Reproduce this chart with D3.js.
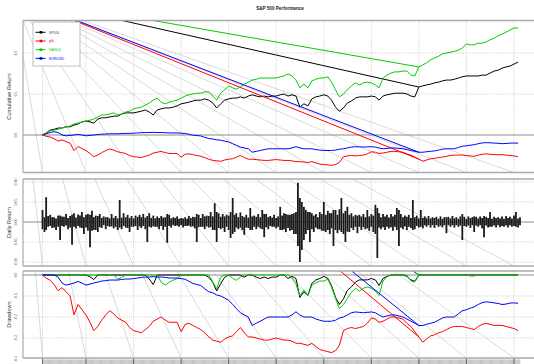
<!DOCTYPE html>
<html><head><meta charset="utf-8">
<script src="https://cdn.jsdelivr.net/npm/d3@7"></script>
<style>body{margin:0;background:#fff}svg{display:block;font-family:"Liberation Sans",Arial,sans-serif}</style>
</head><body>
<svg id="chart" width="534" height="364"></svg>
<script>
// ---------------- DATA ----------------
const chartTitle = "S&P 500 Performance";
const seriesNames = ["SP500", "gld", "NASDQ", "EUR/USD"];
const seriesColors = ["#000000", "#ff0000", "#00cc00", "#0000ff"];
// monthly cumulative returns, Feb 2011 .. Feb 2021
const cumSP500 = [0.00,0.024,0.06,0.07,0.085,0.085,0.10,0.10,0.12,0.135,
0.16,0.17,0.16,0.145,0.195,0.21,0.21,0.22,0.23,0.23,
0.255,0.27,0.27,0.27,0.28,0.29,0.305,0.28,0.245,0.305,
0.32,0.33,0.33,0.34,0.355,0.38,0.39,0.40,0.415,0.425,
0.425,0.44,0.425,0.39,0.33,0.38,0.425,0.44,0.45,0.45,
0.465,0.45,0.475,0.49,0.475,0.465,0.475,0.465,0.475,0.475,
0.49,0.50,0.475,0.49,0.475,0.34,0.38,0.355,0.44,0.465,
0.475,0.49,0.475,0.425,0.34,0.29,0.33,0.39,0.415,0.45,
0.465,0.465,0.465,0.475,0.465,0.425,0.475,0.49,0.50,0.51,
0.51,0.51,0.50,0.475,0.465,0.585,0.60,0.61,0.62,0.635,
0.645,0.66,0.67,0.67,0.68,0.695,0.71,0.72,0.72,0.72,
0.72,0.73,0.73,0.755,0.78,0.79,0.815,0.83,0.84,0.865,
0.89];
const cumGld = [0.0,-0.015,-0.025,-0.045,-0.075,-0.06,-0.08,-0.10,-0.19,-0.14,
-0.165,-0.19,-0.225,-0.265,-0.245,-0.215,-0.19,-0.17,-0.185,-0.205,
-0.215,-0.225,-0.25,-0.265,-0.27,-0.275,-0.26,-0.245,-0.22,-0.21,
-0.20,-0.215,-0.225,-0.225,-0.225,-0.27,-0.235,-0.23,-0.24,-0.25,
-0.26,-0.275,-0.295,-0.31,-0.315,-0.32,-0.305,-0.295,-0.29,-0.27,
-0.25,-0.275,-0.295,-0.295,-0.30,-0.305,-0.31,-0.31,-0.305,-0.30,
-0.305,-0.31,-0.31,-0.315,-0.325,-0.325,-0.33,-0.335,-0.325,-0.34,
-0.355,-0.36,-0.365,-0.37,-0.36,-0.335,-0.265,-0.255,-0.25,-0.255,
-0.25,-0.245,-0.23,-0.205,-0.21,-0.225,-0.22,-0.21,-0.20,-0.20,
-0.205,-0.21,-0.23,-0.245,-0.27,-0.295,-0.32,-0.305,-0.29,-0.285,
-0.275,-0.27,-0.26,-0.25,-0.245,-0.245,-0.245,-0.25,-0.255,-0.26,
-0.245,-0.235,-0.23,-0.235,-0.24,-0.24,-0.24,-0.245,-0.25,-0.255,
-0.265];
const cumNasdq = [0.00,0.024,0.05,0.06,0.07,0.085,0.10,0.11,0.135,0.145,
0.16,0.17,0.18,0.195,0.22,0.245,0.245,0.255,0.27,0.245,
0.255,0.28,0.29,0.32,0.33,0.34,0.365,0.39,0.425,0.45,
0.40,0.38,0.40,0.415,0.425,0.45,0.475,0.49,0.50,0.51,
0.51,0.525,0.525,0.475,0.425,0.51,0.55,0.60,0.575,0.56,
0.585,0.62,0.645,0.67,0.68,0.695,0.695,0.695,0.695,0.695,
0.71,0.72,0.745,0.72,0.67,0.575,0.62,0.575,0.66,0.68,
0.695,0.695,0.71,0.645,0.55,0.465,0.50,0.55,0.60,0.635,
0.61,0.635,0.645,0.635,0.61,0.575,0.695,0.73,0.755,0.77,
0.77,0.78,0.78,0.73,0.72,0.83,0.855,0.88,0.915,0.94,
0.96,0.99,1.00,1.01,1.02,1.035,1.06,1.11,1.10,1.10,
1.12,1.12,1.135,1.16,1.18,1.21,1.23,1.255,1.28,1.305,
1.305];
const cumEurUsd = [0.0,0.015,0.03,0.04,0.03,0.0,-0.01,-0.005,0.0,0.008,
0.0,-0.01,-0.005,0.0,0.005,0.01,0.012,0.015,0.015,0.015,
0.018,0.02,0.02,0.022,0.025,0.028,0.03,0.03,0.032,0.03,
0.03,0.028,0.025,0.025,0.025,0.022,0.019,0.009,-0.002,-0.007,
-0.012,-0.028,-0.043,-0.048,-0.059,-0.064,-0.074,-0.085,-0.106,-0.126,
-0.147,-0.158,-0.168,-0.21,-0.199,-0.189,-0.178,-0.168,-0.168,-0.168,
-0.168,-0.168,-0.168,-0.158,-0.142,-0.158,-0.168,-0.168,-0.168,-0.178,
-0.184,-0.189,-0.189,-0.189,-0.184,-0.173,-0.168,-0.158,-0.147,-0.143,
-0.145,-0.147,-0.145,-0.143,-0.147,-0.158,-0.168,-0.163,-0.158,-0.158,
-0.163,-0.168,-0.178,-0.189,-0.199,-0.21,-0.21,-0.204,-0.199,-0.194,
-0.184,-0.173,-0.168,-0.168,-0.168,-0.152,-0.137,-0.132,-0.124,-0.118,
-0.106,-0.097,-0.093,-0.095,-0.098,-0.101,-0.106,-0.104,-0.099,-0.098,
-0.1];
// semi-monthly daily-return readings (SP500): dominant move in each half month
const dailyReturns = [0.03,-0.025,0.062,-0.012,0.018,-0.015,0.012,-0.02,0.016,-0.045,
0.014,-0.012,0.02,-0.018,0.015,-0.057,0.022,-0.016,0.019,-0.014,
0.025,-0.03,0.018,-0.022,-0.063,0.028,-0.02,0.016,-0.025,0.02,
-0.015,0.014,-0.018,0.012,-0.012,0.02,-0.016,0.015,-0.02,0.055,
-0.018,0.022,-0.014,0.018,-0.025,0.015,-0.012,0.016,-0.02,0.018,
-0.015,0.02,-0.018,-0.05,0.022,-0.014,0.016,-0.012,0.014,-0.018,
0.015,-0.02,0.012,-0.052,0.018,-0.014,0.012,-0.01,0.014,-0.012,
0.01,-0.014,0.012,-0.01,0.015,-0.012,0.013,-0.016,-0.05,0.018,
-0.012,0.02,-0.018,0.016,-0.014,0.025,-0.02,0.047,-0.05,0.022,
-0.018,0.02,-0.025,0.018,-0.02,-0.04,0.06,-0.025,0.022,-0.018,
0.024,-0.02,-0.032,0.018,-0.015,0.035,-0.02,0.016,-0.018,0.02,
-0.016,0.03,-0.038,0.02,-0.018,0.015,-0.012,0.018,-0.016,0.014,
0.038,-0.02,0.022,-0.025,0.018,-0.022,0.02,-0.03,0.025,0.098,
-0.10,-0.07,0.038,-0.03,0.025,-0.05,0.022,-0.025,0.02,-0.018,
0.025,-0.022,0.05,-0.025,0.028,-0.03,0.022,-0.06,0.03,-0.028,
0.032,0.06,-0.03,-0.05,0.038,-0.025,0.022,-0.02,0.018,-0.028,
0.018,-0.02,0.02,-0.018,0.03,-0.022,0.02,-0.025,0.043,-0.09,
0.022,-0.018,0.02,-0.02,0.018,-0.016,0.02,-0.022,0.018,0.035,
-0.06,0.02,-0.018,0.016,-0.02,0.018,-0.015,0.055,-0.018,0.016,
-0.014,0.03,-0.016,0.014,-0.012,0.015,-0.014,0.012,-0.015,0.013,
-0.012,0.014,-0.013,0.012,-0.028,0.013,-0.012,0.015,-0.014,0.012,
-0.012,0.014,-0.045,0.013,-0.012,0.014,-0.015,0.012,-0.025,0.013,
-0.012,0.014,-0.016,-0.038,0.013,-0.014,0.025,-0.012,0.013,-0.014,
0.012,-0.013,0.014,-0.012,0.015,-0.014,0.013,-0.012,0.016,0.025,
-0.014,0.012];
// opposite-direction move in each half month
const dailyReturnsCounter = [-0.018,0.012,-0.02,0.015,-0.01,0.012,-0.014,0.009,-0.012,0.016,
-0.01,0.013,-0.009,0.01,-0.014,0.018,-0.012,0.011,-0.01,0.016,
-0.015,0.012,-0.014,0.02,0.018,-0.022,0.012,-0.02,0.015,-0.013,
0.01,-0.008,0.012,-0.01,0.009,-0.011,0.01,-0.012,0.009,-0.014,
0.011,-0.01,0.012,-0.015,0.01,-0.012,0.009,-0.01,0.013,-0.011,
0.012,-0.01,0.011,0.015,-0.012,0.01,-0.011,0.009,-0.012,0.01,
-0.01,0.011,-0.012,0.02,-0.01,0.009,-0.008,0.01,-0.009,0.008,
-0.008,0.009,-0.01,0.008,-0.009,0.01,-0.011,0.012,0.02,-0.013,
0.01,-0.012,0.014,-0.011,0.015,-0.013,0.014,-0.02,0.025,-0.015,
0.013,-0.015,0.014,-0.012,0.016,0.025,-0.03,0.018,-0.014,0.012,
-0.014,0.015,0.012,-0.014,0.011,-0.02,0.014,-0.012,0.013,-0.012,
0.012,-0.018,0.02,-0.013,0.012,-0.01,0.011,-0.012,0.01,-0.012,
-0.02,0.016,-0.018,0.02,-0.015,0.018,-0.02,0.022,-0.03,-0.06,
0.06,0.05,-0.045,0.03,-0.02,0.025,-0.018,0.016,-0.014,0.012,
-0.018,0.02,-0.022,0.018,-0.02,0.022,-0.016,0.03,-0.02,0.018,
-0.02,-0.025,0.022,0.028,-0.024,0.018,-0.015,0.014,-0.012,0.016,
-0.012,0.014,-0.013,0.012,-0.016,0.014,-0.012,0.016,-0.03,0.035,
-0.014,0.012,-0.013,0.014,-0.012,0.011,-0.013,0.014,-0.012,-0.02,
0.03,-0.014,0.012,-0.011,0.013,-0.012,0.01,-0.02,0.012,-0.01,
0.009,-0.012,0.01,-0.008,0.009,-0.008,0.009,-0.008,0.01,-0.008,
0.008,-0.009,0.008,-0.008,0.012,-0.008,0.009,-0.008,0.009,-0.008,
0.008,-0.009,0.02,-0.01,0.008,-0.009,0.01,-0.008,0.014,-0.009,
0.009,-0.008,0.01,0.015,-0.009,0.01,-0.012,0.008,-0.009,0.01,
-0.008,0.009,-0.01,0.008,-0.009,0.01,-0.008,0.009,-0.01,-0.012,
0.009,-0.008];
const breakIndex = 95;             // second data chunk starts Jan 2019
const cumTicks = [0, 0.5, 1.0];
const cumTickLabels = ["0.0", "0.5", "1.0"];
const retTicks = [-0.10, -0.05, 0, 0.05, 0.10];
const retTickLabels = ["-0.10", "-0.05", "0.00", "0.05", "0.10"];
const ddTicks = [0, -0.1, -0.2, -0.3, -0.4];
const ddTickLabels = ["0.0", "-0.1", "-0.2", "-0.3", "-0.4"];
const axisTitles = ["Cumulative Return", "Daily Return", "Drawdown"];

// ---------------- DERIVED ----------------
const months = d3.timeMonth.range(new Date(2011,1,1), new Date(2021,2,1));
const retDates = months.flatMap(d => [d, d3.timeDay.offset(d, 15)]);
const cumSeries = [cumSP500, cumGld, cumNasdq, cumEurUsd];
const ddSeries = cumSeries.map(s => { let peak = -Infinity; return s.map(c => { peak = Math.max(peak, 1 + c); return (1 + c) / peak - 1; }); });
const gridTicks = [new Date(2011,1,1)].concat(d3.timeYear.range(new Date(2012,0,1), new Date(2021,0,2)));

// ---------------- LAYOUT ----------------
const svg = d3.select("#chart");
const plotLeft = 23, plotRight = 540;
const ORIGIN = [13, -4];
const panels = {
  cum: {top: 20.5, bottom: 172.5},
  ret: {top: 179, bottom: 266},
  dd:  {top: 271, bottom: 358}
};
const x = d3.scaleTime().domain([new Date(2011,1,1), new Date(2021,0,1)]).range([42.5, 514]);
const yCum = d3.scaleLinear().domain([0, 1]).range([135, 53]);
const yRet = d3.scaleLinear().domain([0, 0.05]).range([222, 202]);
const yDD = d3.scaleLinear().domain([0, -0.1]).range([275, 296]);

const defs = svg.append("defs");
Object.entries(panels).forEach(([k, p]) => {
  defs.append("clipPath").attr("id", "clip-" + k).append("rect")
    .attr("x", plotLeft).attr("y", p.top).attr("width", plotRight - plotLeft).attr("height", p.bottom - p.top);
});

svg.append("text").attr("x", 280).attr("y", 10).attr("text-anchor", "middle")
  .attr("font-size", 4.6).attr("font-weight", "bold").attr("fill", "#222").text(chartTitle);

function drawPanel(key, yScale, ticks, labels, title) {
  const p = panels[key];
  const g = svg.append("g").attr("clip-path", `url(#clip-${key})`);
  g.selectAll(".vg").data(gridTicks).join("line")
    .attr("x1", d => x(d)).attr("x2", d => x(d)).attr("y1", p.top).attr("y2", p.bottom)
    .attr("stroke", "#c4c4c4").attr("stroke-width", 0.8).attr("stroke-dasharray", "1,1.2");
  g.selectAll(".hg").data(ticks.filter(t => t !== 0)).join("line")
    .attr("x1", plotLeft).attr("x2", plotRight).attr("y1", d => yScale(d)).attr("y2", d => yScale(d))
    .attr("stroke", "#c4c4c4").attr("stroke-width", 0.8).attr("stroke-dasharray", "1,1.2");
  g.selectAll(".ag").data(gridTicks).join("line")
    .attr("x1", ORIGIN[0]).attr("y1", ORIGIN[1]).attr("x2", d => x(d)).attr("y2", p.bottom)
    .attr("stroke", "#cfcfcf").attr("stroke-width", 0.8);
  g.append("line").attr("x1", plotLeft).attr("x2", plotRight).attr("y1", yScale(0)).attr("y2", yScale(0))
    .attr("stroke", "#8c8c8c").attr("stroke-width", 1.1);
  svg.append("line").attr("x1", plotLeft).attr("x2", plotRight).attr("y1", p.top).attr("y2", p.top).attr("stroke", "#aaaaaa").attr("stroke-width", 1.4);
  svg.append("line").attr("x1", plotLeft).attr("x2", plotRight).attr("y1", p.bottom).attr("y2", p.bottom).attr("stroke", "#aaaaaa").attr("stroke-width", 1.4);
  svg.append("line").attr("x1", plotLeft).attr("x2", plotLeft).attr("y1", p.top).attr("y2", p.bottom).attr("stroke", "#aaaaaa").attr("stroke-width", 1.2);
  ticks.forEach((t, i) => {
    svg.append("text").attr("transform", `translate(16.5,${yScale(t)}) rotate(-90)`)
      .attr("text-anchor", "middle").attr("font-size", 3.4).attr("fill", "#666").text(labels[i]);
  });
  svg.append("text").attr("transform", `translate(10.5,${(p.top + p.bottom) / 2}) rotate(-90)`)
    .attr("text-anchor", "middle").attr("font-size", 5.6).attr("fill", "#333").text(title);
  return g;
}

function drawSeries(g, yScale, series, color) {
  const pts = series.map((v, i) => [x(months[i]), yScale(v)]);
  const line = d3.line();
  g.append("path").attr("d", line(pts.slice(0, breakIndex + 1)))
    .attr("fill", "none").attr("stroke", color).attr("stroke-width", 1);
  g.append("path").attr("d", line([ORIGIN].concat(pts.slice(breakIndex))))
    .attr("fill", "none").attr("stroke", color).attr("stroke-width", 1);
}

// Cumulative panel
const gCum = drawPanel("cum", yCum, cumTicks, cumTickLabels, axisTitles[0]);
cumSeries.forEach((s, i) => drawSeries(gCum, yCum, s, seriesColors[i]));

// Legend
const lg = svg.append("g");
lg.append("rect").attr("x", 33).attr("y", 22).attr("width", 47).attr("height", 44)
  .attr("fill", "#fff").attr("stroke", "#b0b0b0").attr("stroke-width", 0.8);
seriesNames.forEach((n, i) => {
  const yy = 32.3 + i * 8.7;
  lg.append("line").attr("x1", 35.5).attr("x2", 45.5).attr("y1", yy).attr("y2", yy)
    .attr("stroke", seriesColors[i]).attr("stroke-width", 1);
  lg.append("rect").attr("x", 39.6).attr("y", yy - 1.3).attr("width", 2.6).attr("height", 2.6).attr("fill", seriesColors[i]);
  lg.append("text").attr("x", 49).attr("y", yy + 1.2).attr("font-size", 3.4)
    .attr("fill", i === 0 ? "#444" : seriesColors[i]).text(n);
});

// Daily return panel
const gRet = drawPanel("ret", yRet, retTicks, retTickLabels, axisTitles[1]);
gRet.selectAll(".bar").data(dailyReturns).join("line")
  .attr("x1", (d, i) => x(retDates[i])).attr("x2", (d, i) => x(retDates[i]))
  .attr("y1", (d, i) => yRet(dailyReturnsCounter[i])).attr("y2", d => yRet(d))
  .attr("stroke", "#1a1a1a").attr("stroke-width", 1.8);

// Drawdown panel
const gDD = drawPanel("dd", yDD, ddTicks, ddTickLabels, axisTitles[2]);
ddSeries.forEach((s, i) => drawSeries(gDD, yDD, s, seriesColors[i]));

// Bottom axis: dense minor ticks + major ticks
const weeks = d3.timeWeek.range(new Date(2011,1,1), new Date(2021,1,20));
svg.append("g").selectAll("line").data(weeks).join("line")
  .attr("x1", d => x(d)).attr("x2", d => x(d)).attr("y1", 359.5).attr("y2", 364)
  .attr("stroke", "#bdbdbd").attr("stroke-width", 0.9);
svg.append("g").selectAll("line").data(gridTicks).join("line")
  .attr("x1", d => x(d)).attr("x2", d => x(d)).attr("y1", 358.5).attr("y2", 364)
  .attr("stroke", "#444").attr("stroke-width", 0.8);
</script>
</body></html>
